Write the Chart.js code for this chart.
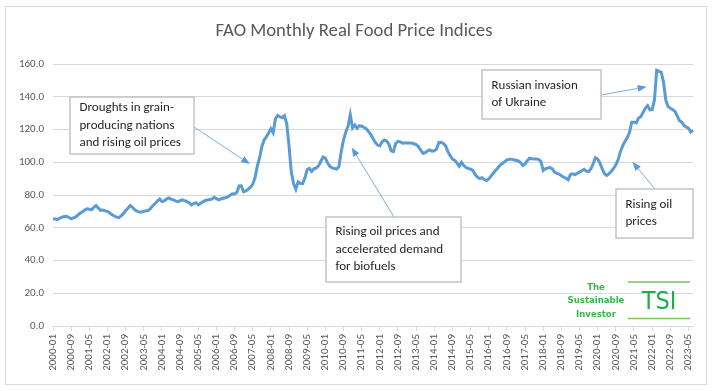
<!DOCTYPE html>
<html lang="en">
<head>
<meta charset="utf-8">
<title>FAO Monthly Real Food Price Indices</title>
<script src="https://cdn.jsdelivr.net/npm/chart.js@4.4.1/dist/chart.umd.min.js"></script>
<style>
    html, body { margin: 0; padding: 0; background: #ffffff; }
    #frame {
        position: absolute; left: 5px; top: 6px;
        width: 700px; height: 377px;
        border: 1px solid #d9d9d9;
    }
    #priceChart { position: absolute; left: 0; top: 0; }
</style>
</head>
<body>
<div id="frame"></div>
<canvas id="priceChart" width="716" height="391"></canvas>

<script>
"use strict";

/**
 * First month of the series and number of months.
 * Months run 2000-01 .. 2023-07.
 */
const firstYear = 2000;
const monthCount = 283;

/** Only every 8th month gets a tick label, as in the original. */
const tickEvery = 8;

/**
 * FAO real food price index, one row per year.
 */
const priceIndex = [
    // 2000
    65.5, 65.3, 65.0, 65.9, 66.5, 66.9, 67.0, 66.3, 65.5, 66.0, 66.6, 67.8,
    // 2001
    69.0, 69.8, 70.8, 71.6, 71.3, 71.0, 72.5, 73.6, 72.0, 70.6, 70.8, 70.3,
    // 2002
    70.0, 69.0, 68.0, 67.2, 66.5, 66.2, 67.3, 68.6, 70.4, 71.9, 73.6, 72.5,
    // 2003
    71.0, 70.2, 69.6, 69.6, 70.0, 70.4, 70.6, 71.8, 73.5, 74.8, 76.3, 77.5,
    // 2004
    76.0, 76.4, 77.5, 78.2, 77.5, 77.0, 76.4, 76.0, 76.5, 77.0, 76.6, 76.0,
    // 2005
    75.3, 74.0, 74.8, 75.3, 74.0, 75.0, 75.8, 76.5, 77.0, 77.2, 77.5, 78.6,
    // 2006
    77.8, 77.0, 77.6, 78.0, 78.3, 78.9, 79.8, 80.8, 80.7, 81.5, 85.5, 85.6,
    // 2007
    82.0, 82.5, 83.6, 84.8, 86.5, 90.5, 97.5, 102.5, 109.5, 113.5, 115.5, 117.8,
    // 2008
    120.5, 118.0, 126.5, 128.6, 127.8, 127.2, 128.4, 123.5, 110.0, 94.0, 87.0, 83.5,
    // 2009
    88.0, 87.0, 87.0, 90.5, 95.5, 96.2, 94.4, 96.0, 96.6, 97.8, 100.5, 103.2,
    // 2010
    102.5, 99.5, 97.5, 96.6, 96.2, 95.8, 97.5, 106.5, 113.5, 118.5, 122.0, 129.0,
    // 2011
    121.0, 122.8, 120.8, 122.4, 122.0, 121.4, 120.5, 118.8, 117.0, 114.5, 112.2, 110.5,
    // 2012
    110.0, 112.5, 113.6, 113.0, 111.0, 107.0, 106.5, 111.5, 112.8, 112.5, 111.7, 111.8,
    // 2013
    111.8, 111.7, 111.8, 111.3, 110.8, 109.6, 107.5, 105.5, 105.8, 107.0, 107.5, 106.8,
    // 2014
    107.0, 108.0, 112.0, 112.2, 111.5, 110.0, 106.5, 104.0, 102.0, 101.2, 99.5, 97.6,
    // 2015
    100.0, 98.0, 96.8, 96.2, 95.8, 95.0, 92.5, 91.0, 90.0, 90.6, 89.5, 88.8,
    // 2016
    89.8, 91.5, 93.3, 95.0, 96.5, 98.3, 99.3, 100.3, 101.5, 101.8, 101.9, 101.5,
    // 2017
    101.2, 100.8, 99.8, 98.0, 99.0, 101.0, 102.5, 102.2, 102.0, 102.0, 101.8, 100.5,
    // 2018
    95.0, 96.0, 96.6, 96.8, 96.0, 94.0, 93.2, 92.8, 91.8, 91.0, 90.2, 89.3,
    // 2019
    92.5, 93.0, 92.5, 93.2, 94.0, 94.8, 95.7, 94.6, 94.2, 96.0, 99.0, 102.8,
    // 2020
    102.0, 99.5, 96.0, 93.0, 92.0, 93.0, 94.5, 96.2, 98.5, 101.5, 106.5, 110.0,
    // 2021
    112.7, 115.0, 118.0, 124.5, 124.5, 124.0, 127.0, 127.8, 130.5, 133.0, 134.6, 132.0,
    // 2022
    132.2, 138.0, 156.2, 155.5, 155.0, 149.0, 138.0, 134.0, 133.0, 132.2, 131.2, 128.5,
    // 2023
    125.5, 124.5, 122.5, 121.5, 120.8, 118.5, 119.5
];

/** Value axis settings. */
const yMin = 0;
const yMax = 160;
const yStep = 20;

/**
 * Call-out boxes. The arrow tip is given in data space
 * (month index, index value) so it goes through the scales.
 */
const callouts = [
    {
        lines: ["Droughts in grain-", "producing nations", "and rising oil prices"],
        box: [70, 97, 124, 57],
        tail: [194, 127],
        tip: [86.8, 98.9]
    },
    {
        lines: ["Rising oil prices and", "accelerated demand", "for biofuels"],
        box: [326, 217, 135, 65],
        tail: [394, 217],
        tip: [131.6, 109.1]
    },
    {
        lines: ["Russian invasion", "of Ukraine"],
        box: [482, 70, 119, 49],
        tail: [601, 95],
        tip: [261.6, 146.1]
    },
    {
        lines: ["Rising oil", "prices"],
        box: [616, 189, 77, 49],
        tail: [655, 189],
        tip: [255.3, 100.3]
    }
];

const fontFamily = "Carlito, Lato, 'Noto Sans', sans-serif";
const narrowFamily = "'Liberation Sans Narrow', 'DejaVu Sans Condensed', Roboto, sans-serif";

// ------------------------------------
// Month labels "YYYY-MM".
// ------------------------------------

const monthLabels = [];

for (let i = 0; i < monthCount; i++) {

    const year = firstYear + Math.floor(i / 12);
    const month = (i % 12) + 1;

    monthLabels.push(year + "-" + String(month).padStart(2, "0"));

}

/**
 * Draws a straight line with a small filled arrowhead at the end.
 */
function drawArrow(ctx, x1, y1, x2, y2) {

    const angle = Math.atan2(y2 - y1, x2 - x1);
    const headLen = 9;
    const headHalf = 3.5;

    ctx.beginPath();
    ctx.moveTo(x1, y1);
    ctx.lineTo(x2 - Math.cos(angle) * headLen, y2 - Math.sin(angle) * headLen);
    ctx.stroke();

    ctx.beginPath();
    ctx.moveTo(x2, y2);
    ctx.lineTo(
        x2 - Math.cos(angle) * headLen - Math.sin(angle) * headHalf,
        y2 - Math.sin(angle) * headLen + Math.cos(angle) * headHalf
    );
    ctx.lineTo(
        x2 - Math.cos(angle) * headLen + Math.sin(angle) * headHalf,
        y2 - Math.sin(angle) * headLen - Math.cos(angle) * headHalf
    );
    ctx.closePath();
    ctx.fill();

}

/**
 * Plugin that paints the text call-outs and the TSI logo.
 */
const calloutPlugin = {

    id: "callouts",

    afterDraw(chart) {

        const ctx = chart.ctx;
        const xScale = chart.scales.x;
        const yScale = chart.scales.y;

        ctx.save();

        callouts.forEach(c => {

            const [bx, by, bw, bh] = c.box;

            // arrow first, box sits on top of its tail
            ctx.strokeStyle = "#5b9bd5";
            ctx.fillStyle = "#5b9bd5";
            ctx.lineWidth = 0.8;

            drawArrow(
                ctx,
                c.tail[0], c.tail[1],
                xScale.getPixelForValue(c.tip[0]),
                yScale.getPixelForValue(c.tip[1])
            );

            ctx.fillStyle = "#ffffff";
            ctx.fillRect(bx, by, bw, bh);

            ctx.strokeStyle = "#c4c4c4";
            ctx.lineWidth = 1.5;
            ctx.strokeRect(bx, by, bw, bh);

            ctx.fillStyle = "#262626";
            ctx.font = "13px " + fontFamily;
            ctx.textAlign = "left";
            ctx.textBaseline = "middle";

            const lineGap = 17.4;
            const startY = by + bh / 2 - lineGap * (c.lines.length - 1) / 2;

            c.lines.forEach((line, i) => {

                ctx.fillText(line, bx + 9.5, startY + i * lineGap);

            });

        });

        // ------------------------------------
        // The Sustainable Investor logo
        // ------------------------------------

        ctx.textAlign = "center";
        ctx.textBaseline = "middle";
        ctx.fillStyle = "#3cb44b";
        ctx.font = "bold 9.5px " + narrowFamily;

        ctx.fillText("The", 596, 288);
        ctx.fillText("Sustainable", 596, 301);
        ctx.fillText("Investor", 596, 314.5);

        ctx.strokeStyle = "#7cc45a";
        ctx.lineWidth = 1.5;

        ctx.beginPath();
        ctx.moveTo(628, 282);
        ctx.lineTo(690, 282);
        ctx.moveTo(628, 318.5);
        ctx.lineTo(690, 318.5);
        ctx.stroke();

        ctx.fillStyle = "#1fae4b";
        ctx.font = "25px " + narrowFamily;
        ctx.fillText("TSI", 659, 302);

        ctx.restore();

    }

};

Chart.defaults.font.family = fontFamily;
Chart.defaults.color = "#595959";

new Chart(document.querySelector("#priceChart"), {

    type: "line",

    data: {
        labels: monthLabels,
        datasets: [
            {
                label: "FAO Real Food Price Index",
                data: priceIndex,
                borderColor: "#5b9bd5",
                borderWidth: 3,
                pointRadius: 0,
                tension: 0,
                fill: false
            }
        ]
    },

    options: {

        responsive: false,
        animation: false,

        // some left padding pulls the title towards the frame centre
        layout: {
            padding: { left: 15, right: 23, top: 0, bottom: 0 }
        },

        plugins: {
            legend: { display: false },
            tooltip: { enabled: false },
            title: {
                display: true,
                text: "FAO Monthly Real Food Price Indices",
                color: "#595959",
                font: { size: 18.7, weight: "normal" },
                padding: { top: 19.7, bottom: 21.9 }
            }
        },

        scales: {

            x: {
                type: "category",
                offset: false,
                grid: {
                    display: true,
                    drawOnChartArea: false,
                    drawTicks: true,
                    tickLength: 5,
                    color: "#d9d9d9"
                },
                border: { display: true, color: "#d9d9d9" },
                ticks: {
                    autoSkip: false,
                    maxRotation: 90,
                    minRotation: 90,
                    padding: 3,
                    font: { size: 11 }
                },
                afterBuildTicks(scale) {
                    scale.ticks = scale.ticks.filter(t => t.value % tickEvery === 0);
                },
                afterFit(scale) {
                    scale.height = 65;
                }
            },

            y: {
                min: yMin,
                max: yMax,
                grid: {
                    color: "#d9d9d9",
                    drawTicks: false
                },
                border: { display: false },
                ticks: {
                    stepSize: yStep,
                    padding: 9,
                    font: { size: 11 },
                    callback: value => value.toFixed(1)
                },
                afterFit(scale) {
                    scale.width = 38;
                }
            }

        }

    },

    plugins: [calloutPlugin]

});
</script>
</body>
</html>
